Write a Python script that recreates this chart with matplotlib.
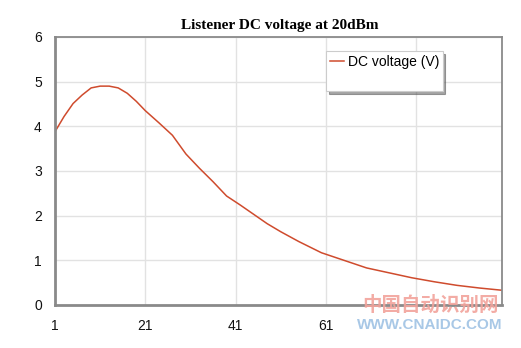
import matplotlib.pyplot as plt
import numpy as np

# values
sample = [1, 3, 5, 7, 9, 11, 13, 15, 17, 19, 21, 24, 27, 30, 33, 36, 39, 42,
          45, 48, 51, 55, 60, 65, 70, 75, 80, 85, 90, 95, 100]
dc_volts = [3.88, 4.22, 4.51, 4.70, 4.86, 4.90, 4.90, 4.86, 4.74, 4.56, 4.35,
            4.08, 3.80, 3.38, 3.06, 2.76, 2.44, 2.24, 2.03, 1.82, 1.64, 1.42,
            1.17, 1.00, 0.83, 0.72, 0.61, 0.52, 0.44, 0.38, 0.33]
x_ticks = [1, 21, 41, 61, 81]
x_tick_labels = ['1', '21', '41', '61', '']
y_ticks = [0, 1, 2, 3, 4, 5, 6]

fig = plt.figure(figsize=(5.21, 3.48), dpi=100)
ax = fig.add_axes([0.1056, 0.1236, 0.8579, 0.7701])

ax.plot(sample, dc_volts, color='#cf4b2d', lw=1.1, label='DC voltage (V)')
ax.plot([], [], color='none', label=' ')

ax.set_xlim(1, 100)
ax.set_ylim(0, 6)
ax.set_xticks(x_ticks)
ax.set_xticklabels(x_tick_labels)
ax.set_yticks(y_ticks)
ax.grid(True, color='#e2e2e2', lw=1)
ax.tick_params(length=0, labelsize=10, colors='#111111')
ax.tick_params(axis='y', pad=9.5)
ax.tick_params(axis='x', pad=10)
for lab in ax.get_xticklabels() + ax.get_yticklabels():
    lab.set_family('Liberation Sans')

for side in ['left', 'bottom']:
    ax.spines[side].set_color('#8a8a8a')
    ax.spines[side].set_linewidth(2)
for side in ['top', 'right']:
    ax.spines[side].set_color('#8a8a8a')
    ax.spines[side].set_linewidth(1.3)

fig.text(0.536, 0.926, 'Listener DC voltage at 20dBm', ha='center', va='center',
         family='Liberation Serif', weight='bold', fontsize=11)

leg = ax.legend(loc='upper left', bbox_to_anchor=(0.607, 0.946), frameon=True,
                fancybox=False, shadow=True, handlelength=1.0, handletextpad=0.3,
                borderpad=0.25, borderaxespad=0, labelspacing=0.35,
                prop={'family': 'Liberation Sans', 'size': 10})
leg.get_frame().set_edgecolor('#cccccc')
leg.get_frame().set_linewidth(0.8)

# watermark
fig.text(0.8255, 0.123, '中国自动识别网', ha='center', va='center', color='#f2a39b',
         family=['Noto Sans CJK SC', 'DejaVu Sans'], weight='bold', fontsize=14, alpha=0.9)
fig.text(0.8255, 0.066, 'WWW.CNAIDC.COM', ha='center', va='center', color='#9fc2e4',
         family='Liberation Sans', weight='bold', fontsize=11, alpha=0.9)

fig.savefig('out.png', dpi=100)
